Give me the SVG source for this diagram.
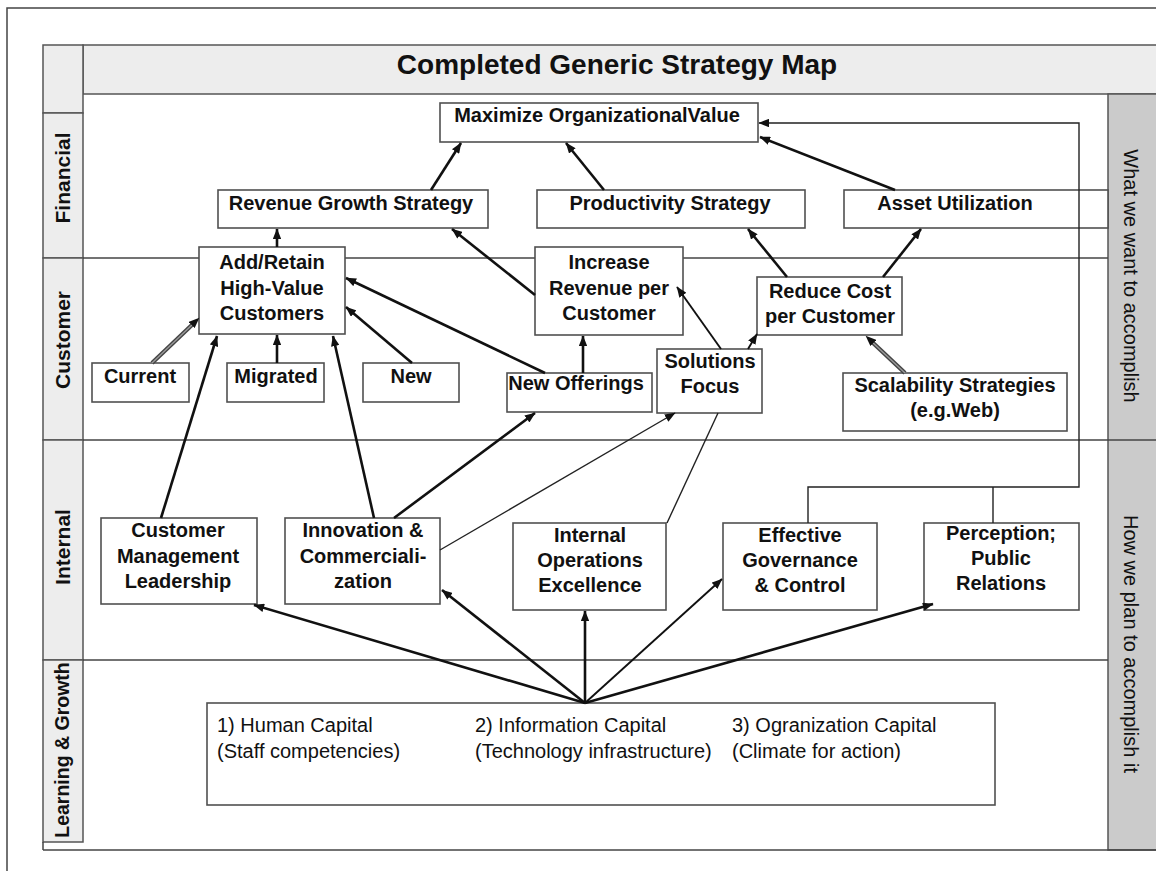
<svg xmlns="http://www.w3.org/2000/svg" width="1156" height="871" viewBox="0 0 1156 871">
<defs>
<style>
.frame{fill:none;stroke:#444;stroke-width:1.5}
.band{fill:#ededed;stroke:#555;stroke-width:1.5}
.side{fill:#cbcbcb;stroke:#555;stroke-width:1.5}
.box{fill:#fff;stroke:#505050;stroke-width:1.6}
.nt{font-family:"Liberation Sans",Arial,sans-serif;font-size:20px;font-weight:bold;fill:#111;text-anchor:middle}
.lt{font-family:"Liberation Sans",Arial,sans-serif;font-size:21px;font-weight:bold;fill:#111;text-anchor:middle}
.rt{font-family:"Liberation Sans",Arial,sans-serif;font-size:20px;fill:#111;text-anchor:middle}
.bt{font-family:"Liberation Sans",Arial,sans-serif;font-size:20px;fill:#111}
.k{fill:none;stroke:#111;stroke-width:2.6;marker-end:url(#ah)}
.m{fill:none;stroke:#111;stroke-width:1.9;marker-end:url(#ah)}
.t{fill:none;stroke:#222;stroke-width:1.4}
.ta{fill:none;stroke:#222;stroke-width:1.4;marker-end:url(#ah)}
.g1{fill:none;stroke:#444;stroke-width:4.2}
.g2{fill:none;stroke:#9a9a9a;stroke-width:1.4}
.h{fill:none;stroke:#111;stroke-width:1;stroke-opacity:0;marker-end:url(#ah)}
</style>
<marker id="ah" viewBox="0 0 10 8" refX="9.5" refY="4" markerWidth="11" markerHeight="8.5" markerUnits="userSpaceOnUse" orient="auto">
<path d="M0,0 L10,4 L0,8 z" fill="#111"/>
</marker>
</defs>
<rect width="1156" height="871" fill="#fff"/>
<!-- outer frame -->
<path class="frame" d="M7,871 V8 H1160" stroke="#222"/>
<!-- title band -->
<rect class="band" x="83" y="45" width="1080" height="49"/>
<text class="nt" x="617" y="74" style="font-size:28px">Completed Generic Strategy Map</text>
<!-- left lane labels -->
<rect class="band" x="43" y="45" width="40" height="68"/>
<rect class="band" x="43" y="113" width="40" height="145"/>
<rect class="band" x="43" y="258" width="40" height="182"/>
<rect class="band" x="43" y="440" width="40" height="220"/>
<rect class="band" x="43" y="660" width="40" height="182"/>
<text class="lt" x="70" y="178" transform="rotate(-90 70 178)">Financial</text>
<text class="lt" x="70" y="340" transform="rotate(-90 70 340)">Customer</text>
<text class="lt" x="70" y="547" transform="rotate(-90 70 547)">Internal</text>
<text class="lt" x="69" y="750" transform="rotate(-90 69 750)" style="font-size:19.5px">Learning &amp; Growth</text>
<!-- right band -->
<rect class="side" x="1108" y="94" width="60" height="756"/>
<line class="frame" x1="1108" y1="440" x2="1160" y2="440"/>
<text class="rt" x="1124" y="276" transform="rotate(90 1124 276)">What we want to accomplish</text>
<text class="rt" x="1124" y="644" transform="rotate(90 1124 644)">How we plan to accomplish it</text>
<!-- inner frame and lanes -->
<path class="frame" d="M43,850 H1160"/>
<line class="frame" x1="83" y1="258" x2="1108" y2="258"/>
<line class="frame" x1="83" y1="440" x2="1108" y2="440"/>
<line class="frame" x1="83" y1="660" x2="1108" y2="660"/>
<line class="frame" x1="43" y1="842" x2="43" y2="850"/>

<!-- nodes -->
<g id="maximize">
<rect class="box" x="440" y="103" width="318" height="39"/>
<text class="nt" x="597" y="122">Maximize OrganizationalValue</text>
</g>
<g id="revenue-growth">
<rect class="box" x="218" y="190" width="270" height="38"/>
<text class="nt" x="351" y="210">Revenue Growth Strategy</text>
</g>
<g id="productivity">
<rect class="box" x="537" y="190" width="268" height="38"/>
<text class="nt" x="670" y="210">Productivity Strategy</text>
</g>
<g id="asset-utilization">
<rect class="box" x="844" y="190" width="264" height="38"/>
<text class="nt" x="955" y="210">Asset Utilization</text>
</g>
<g id="add-retain">
<rect class="box" x="199" y="247" width="146" height="87"/>
<text class="nt" x="272" y="269">Add/Retain</text>
<text class="nt" x="272" y="295">High-Value</text>
<text class="nt" x="272" y="320">Customers</text>
</g>
<g id="increase-revenue">
<rect class="box" x="535" y="247" width="148" height="88"/>
<text class="nt" x="609" y="269">Increase</text>
<text class="nt" x="609" y="295">Revenue per</text>
<text class="nt" x="609" y="320">Customer</text>
</g>
<g id="reduce-cost">
<rect class="box" x="757" y="277" width="145" height="58"/>
<text class="nt" x="830" y="298">Reduce Cost</text>
<text class="nt" x="830" y="323">per Customer</text>
</g>
<g id="current">
<rect class="box" x="92" y="363" width="97" height="39"/>
<text class="nt" x="140" y="383">Current</text>
</g>
<g id="migrated">
<rect class="box" x="227" y="363" width="97" height="39"/>
<text class="nt" x="276" y="383">Migrated</text>
</g>
<g id="new">
<rect class="box" x="363" y="363" width="96" height="39"/>
<text class="nt" x="411" y="383">New</text>
</g>
<g id="new-offerings">
<rect class="box" x="507" y="373" width="145" height="39"/>
<text class="nt" x="576" y="390">New Offerings</text>
</g>
<g id="solutions-focus">
<rect class="box" x="657" y="349" width="105" height="64"/>
<text class="nt" x="710" y="368">Solutions</text>
<text class="nt" x="710" y="393">Focus</text>
</g>
<g id="scalability">
<rect class="box" x="843" y="373" width="224" height="58"/>
<text class="nt" x="955" y="392">Scalability Strategies</text>
<text class="nt" x="955" y="417">(e.g.Web)</text>
</g>
<g id="customer-management">
<rect class="box" x="101" y="518" width="156" height="86"/>
<text class="nt" x="178" y="537">Customer</text>
<text class="nt" x="178" y="563">Management</text>
<text class="nt" x="178" y="588">Leadership</text>
</g>
<g id="innovation">
<rect class="box" x="285" y="518" width="155" height="86"/>
<text class="nt" x="363" y="537">Innovation &amp;</text>
<text class="nt" x="363" y="563">Commerciali-</text>
<text class="nt" x="363" y="588">zation</text>
</g>
<g id="internal-operations">
<rect class="box" x="513" y="523" width="153" height="87"/>
<text class="nt" x="590" y="542">Internal</text>
<text class="nt" x="590" y="567">Operations</text>
<text class="nt" x="590" y="592">Excellence</text>
</g>
<g id="governance">
<rect class="box" x="723" y="523" width="154" height="87"/>
<text class="nt" x="800" y="542">Effective</text>
<text class="nt" x="800" y="567">Governance</text>
<text class="nt" x="800" y="592">&amp; Control</text>
</g>
<g id="perception">
<rect class="box" x="924" y="523" width="155" height="87"/>
<text class="nt" x="1001" y="540">Perception;</text>
<text class="nt" x="1001" y="565">Public</text>
<text class="nt" x="1001" y="590">Relations</text>
</g>
<g id="learning-growth">
<rect class="box" x="207" y="703" width="788" height="102"/>
<text class="bt" x="217" y="732">1) Human Capital</text>
<text class="bt" x="217" y="758">(Staff competencies)</text>
<text class="bt" x="475" y="732">2) Information Capital</text>
<text class="bt" x="475" y="758">(Technology infrastructure)</text>
<text class="bt" x="732" y="732">3) Ogranization Capital</text>
<text class="bt" x="732" y="758">(Climate for action)</text>
</g>

<!-- connectors -->
<g id="connectors">
<line class="k" x1="431" y1="190" x2="461" y2="143"/>
<line class="k" x1="604" y1="190" x2="566" y2="143"/>
<line class="k" x1="895" y1="190" x2="760" y2="137"/>
<polyline class="ta" points="808,523 808,487 1079,487 1079,123 759,123"/>
<line class="t" x1="993" y1="523" x2="993" y2="487"/>
<line class="k" x1="277" y1="247" x2="277" y2="229"/>
<line class="k" x1="535" y1="295" x2="452" y2="229"/>
<line class="k" x1="787" y1="277" x2="748" y2="229"/>
<line class="k" x1="883" y1="277" x2="921" y2="229"/>
<line class="g1" x1="152" y1="363" x2="194" y2="323"/>
<line class="g2" x1="152" y1="363" x2="194" y2="323"/>
<line class="h" x1="152" y1="363" x2="199" y2="318"/>
<line class="k" x1="277" y1="363" x2="277" y2="335"/>
<line class="k" x1="412" y1="363" x2="346" y2="307"/>
<line class="k" x1="545" y1="373" x2="346" y2="278"/>
<line class="k" x1="583" y1="373" x2="583" y2="336"/>
<line class="m" x1="721" y1="349" x2="677" y2="287"/>
<line class="m" x1="748" y1="349" x2="757" y2="334"/>
<line class="g1" x1="905" y1="373" x2="871" y2="341"/>
<line class="g2" x1="905" y1="373" x2="871" y2="341"/>
<line class="h" x1="905" y1="373" x2="866" y2="336"/>
<line class="k" x1="161" y1="518" x2="217" y2="336"/>
<line class="k" x1="374" y1="518" x2="333" y2="336"/>
<line class="k" x1="394" y1="518" x2="535" y2="413"/>
<line class="ta" x1="440" y1="550" x2="675" y2="413"/>
<line class="t" x1="667" y1="523" x2="718" y2="413"/>
<line class="k" x1="585" y1="703" x2="254" y2="605"/>
<line class="k" x1="585" y1="703" x2="442" y2="590"/>
<line class="k" x1="585" y1="703" x2="585" y2="611"/>
<line class="m" x1="585" y1="703" x2="722" y2="579"/>
<line class="k" x1="585" y1="703" x2="933" y2="604"/>
</g>
</svg>
